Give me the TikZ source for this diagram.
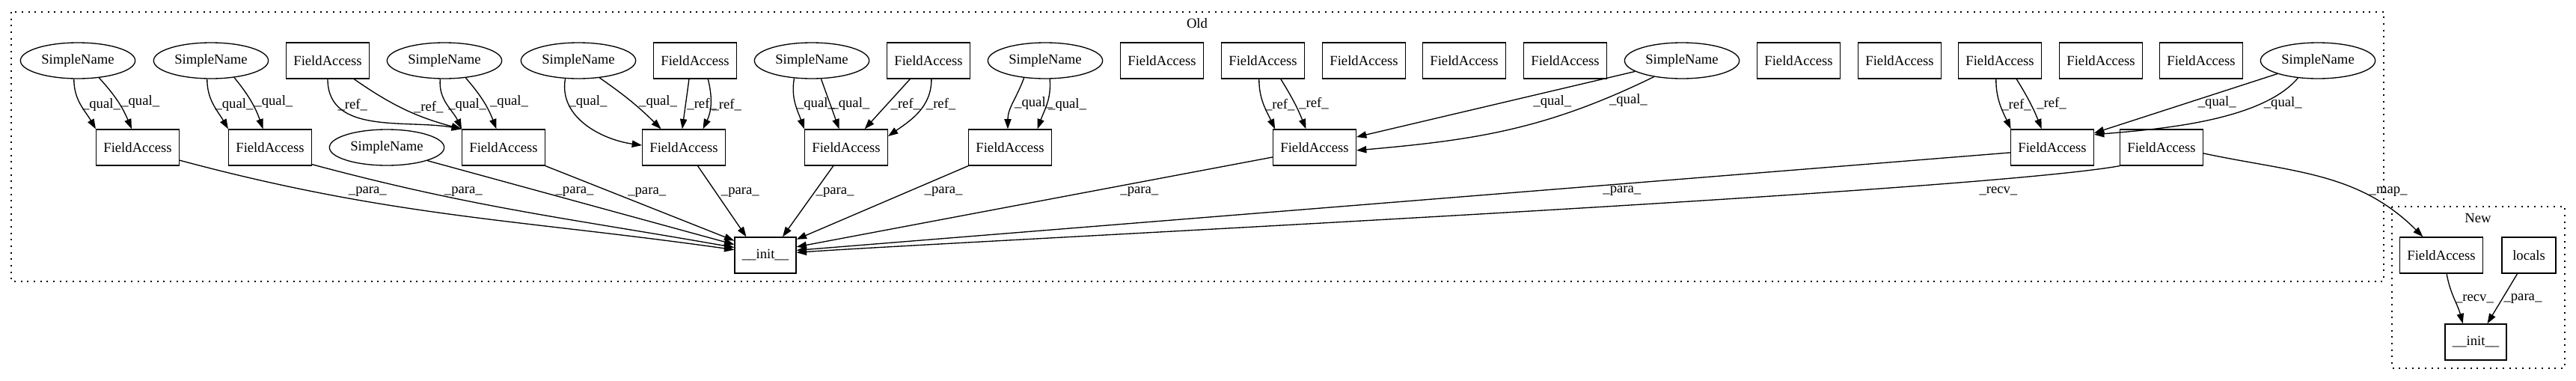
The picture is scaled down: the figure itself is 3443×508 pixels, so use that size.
\documentclass[tikz,border=0pt]{standalone}
\usepackage{fontspec}
\setmainfont{Liberation Serif}
\usetikzlibrary{arrows.meta, positioning, shapes.geometric}

\begin{document}
\begin{tikzpicture}[
    x=0.75pt, y=-0.75pt,
    line width=1pt,
    >={Triangle[length=10pt, width=7pt]},
    font=\fontsize{14pt}{16pt}\selectfont,
    fa/.style={draw, rectangle, minimum width=83pt, minimum height=36pt, inner sep=2pt},
    sn/.style={draw, ellipse, minimum width=115pt, minimum height=36pt, inner sep=1pt},
    lbl/.style={inner sep=1pt},
    cluster/.style={draw, dash pattern=on 1.5pt off 5pt}
]

\useasboundingbox (0,0) rectangle (3443,508);

\draw[cluster] (15,16) rectangle (3186,376);
\node (oldlbl) at (1600,31) {Old};
\draw[cluster] (3197,276) rectangle (3428,492);
\node (newlbl) at (3312,291) {New};

\node[sn] (sn1) at (104,81) {SimpleName};
\node[sn] (sn2) at (282,81) {SimpleName};
\node[fa] (fa1) at (438,81) {FieldAccess};
\node[sn] (sn3) at (594,81) {SimpleName};
\node[sn] (sn4) at (773,81) {SimpleName};
\node[fa] (fa2) at (929,81) {FieldAccess};
\node[sn] (sn5) at (1085,81) {SimpleName};
\node[fa] (fa3) at (1241,81) {FieldAccess};
\node[sn] (sn6) at (1397,81) {SimpleName};
\node[fa] (fa4) at (1553,81) {FieldAccess};
\node[fa] (fa5) at (1688,81) {FieldAccess};
\node[fa] (fa6) at (1823,81) {FieldAccess};
\node[fa] (fa7) at (1957,81) {FieldAccess};
\node[fa] (fa8) at (2092,81) {FieldAccess};
\node[sn] (sn7) at (2248,81) {SimpleName};
\node[fa] (fa9) at (2404,81) {FieldAccess};
\node[fa] (fa10) at (2539,81) {FieldAccess};
\node[fa] (fa11) at (2673,81) {FieldAccess};
\node[fa] (fa12) at (2808,81) {FieldAccess};
\node[fa] (fa13) at (2942,81) {FieldAccess};
\node[sn] (sn8) at (3098,81) {SimpleName};

\node[fa] (fm1) at (184,197) {FieldAccess};
\node[fa] (fm2) at (361,197) {FieldAccess};
\node[sn] (snm) at (517,197) {SimpleName};
\node[fa] (fm3) at (673,197) {FieldAccess};
\node[fa] (fm4) at (914,197) {FieldAccess};
\node[fa] (fm5) at (1131,197) {FieldAccess};
\node[fa] (fm6) at (1350,197) {FieldAccess};
\node[fa] (fm7) at (1757,197) {FieldAccess};
\node[fa] (fm8) at (2743,197) {FieldAccess};
\node[fa] (fm9) at (2889,197) {FieldAccess};

\node[fa, minimum width=61.5pt] (init) at (1023,341) {\_\_init\_\_};

\node[fa] (fan) at (3263,341) {FieldAccess};
\node[fa, minimum width=54pt] (locals) at (3380,341) {locals};
\node[fa, minimum width=61.5pt] (initn) at (3309,457) {\_\_init\_\_};

\path[->]
    (sn1.-102) edge [out=-90, in=120] node[lbl, pos=.5, right] {\_qual\_} (fm1.north west)
    (sn1.-39) edge [bend left=10] node[lbl, pos=.5, right=2pt] {\_qual\_} (fm1.108)
    (sn2.-102) edge [out=-90, in=120] node[lbl, pos=.5, right] {\_qual\_} (fm2.north west)
    (sn2.-36) edge [bend left=10] node[lbl, pos=.5, right=2pt] {\_qual\_} (fm2.111)
    (fa1.south) edge [out=-90, in=170] node[lbl, pos=.2, right] {\_ref\_} (fm3.north west)
    (fa1.-35) edge [bend right=10] node[lbl, pos=.45, right=12pt] {\_ref\_} (fm3.north west)
    (sn3.-103) edge [out=-95, in=115] node[lbl, pos=.5, right] {\_qual\_} (fm3.north west)
    (sn3.-39) edge [bend left=10] node[lbl, pos=.5, right=5pt] {\_qual\_} (fm3.111)
    (sn4.-126) edge [out=-100, in=172] node[lbl, pos=.22, right] {\_qual\_} (fm4.177)
    (sn4.-39) edge [bend left=5] node[lbl, pos=.5, right=6pt] {\_qual\_} (fm4.141)
    (fa2.-108) edge node[lbl, pos=.5, right] {\_ref\_} (fm4.95)
    (fa2.-55) edge [bend left=20] node[lbl, pos=.5, right] {\_ref\_} (fm4.44)
    (sn5.-135) edge [out=-100, in=110] node[lbl, pos=.5, right] {\_qual\_} (fm5.north west)
    (sn5.-63) edge node[lbl, pos=.5, right] {\_qual\_} (fm5.111)
    (fa3.-135) edge node[lbl, pos=.5, right=2pt] {\_ref\_} (fm5.45)
    (fa3.-81) edge [out=-90, in=35] node[lbl, pos=.35, right] {\_ref\_} (fm5.15)
    (sn6.-141) edge [out=-110, in=90] node[lbl, pos=.5, right] {\_qual\_} (fm6.97)
    (sn6.-76) edge [out=-85, in=70] node[lbl, pos=.5, right] {\_qual\_} (fm6.34)
    (fa5.-102) edge [out=-90, in=115] node[lbl, pos=.5, right] {\_ref\_} (fm7.155)
    (fa5.-46) edge [bend left=5] node[lbl, pos=.5, right=3pt] {\_ref\_} (fm7.115)
    (sn7.-167) edge node[lbl, pos=.46, right=25pt] {\_qual\_} (fm7.14)
    (sn7.-150) edge [out=-154, in=5] node[lbl, pos=.17, right=6pt] {\_qual\_} (fm7.-4)
    (fa11.-102) edge [out=-90, in=115] node[lbl, pos=.5, right] {\_ref\_} (fm8.156)
    (fa11.-48) edge [bend left=5] node[lbl, pos=.5, right=5pt] {\_ref\_} (fm8.120)
    (sn8.-162) edge node[lbl, pos=.49, right=9pt] {\_qual\_} (fm8.19)
    (sn8.-139) edge [out=-130, in=5, looseness=.7] node[lbl, pos=.23, right] {\_qual\_} (fm8.17)
    ;

\path[->]
    (fm1.-17) edge [out=-15, in=172] node[lbl, pos=.33, above=4pt] {\_para\_} (init.170)
    (fm2.-22) edge [out=-15, in=170] node[lbl, pos=.35, above=2pt] {\_para\_} (init.166)
    (snm.-18) edge node[lbl, pos=.48, above=3pt] {\_para\_} (init.161)
    (fm3.south east) edge node[lbl, pos=.35, right=15pt] {\_para\_} (init.155)
    (fm4.-53) edge node[lbl, pos=.37, right=4pt] {\_para\_} (init.136)
    (fm5.-125) edge node[lbl, pos=.37, right] {\_para\_} (init.47)
    (fm6.south west) edge node[lbl, pos=.35, right=15pt] {\_para\_} (init.27)
    (fm7.-167) edge node[lbl, pos=.28, below=3pt] {\_para\_} (init.15)
    (fm8.-173) edge node[lbl, pos=.32, below=1pt] {\_para\_} (init.9)
    (fm9.south west) edge [to path={.. controls +(-170:156pt) and +(4:156pt) .. (\tikztotarget) \tikztonodes}]
        node[lbl, pos=.15, below=6pt] {\_recv\_} (init.5)
    (fm9.-8) edge [out=-12, in=135] node[lbl, pos=.68, right=8pt] {\_map\_} (fan.135)
    (fan.-74) edge [out=-80, in=105] node[lbl, pos=.5, right] {\_recv\_} (initn.125)
    (locals.-122) edge node[lbl, pos=.5, right] {\_para\_} (initn.58)
    ;

\end{tikzpicture}
\end{document}
